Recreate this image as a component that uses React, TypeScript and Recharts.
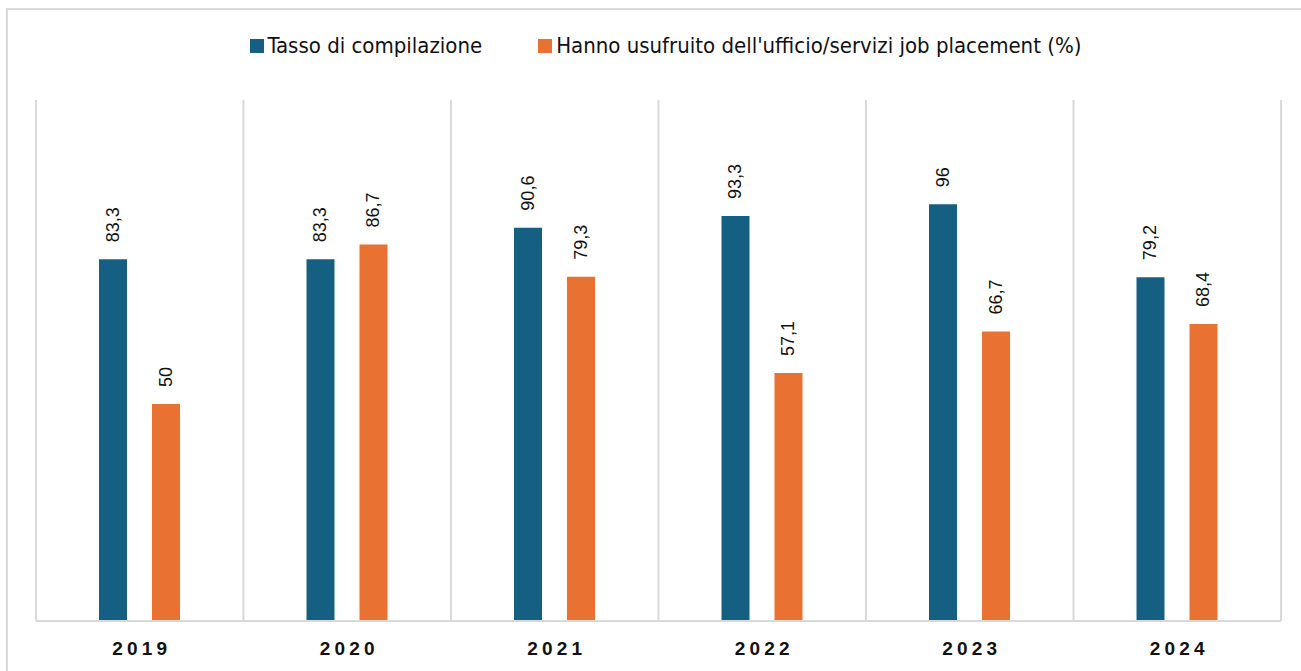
import { BarChart, Bar, XAxis, YAxis, CartesianGrid, Legend, LabelList } from "recharts";

const years = ["2019", "2020", "2021", "2022", "2023", "2024"];
const tassoCompilazione = [83.3, 83.3, 90.6, 93.3, 96, 79.2];
const jobPlacement = [50, 86.7, 79.3, 57.1, 66.7, 68.4];

const BLUE = "#156082";
const ORANGE = "#E97132";
const GRID = "#d9d9d9";
const NARROW = "'Liberation Sans Narrow', 'DejaVu Sans Condensed', sans-serif";

const data = years.map((year, i) => ({
  year,
  tasso: tassoCompilazione[i],
  job: jobPlacement[i],
}));

const legendItems = [
  { label: "Tasso di compilazione", color: BLUE },
  { label: "Hanno usufruito dell'ufficio/servizi job placement (%)", color: ORANGE },
];

function LegendBox() {
  return (
    <div style={{ display: "flex", justifyContent: "center", gap: 56, paddingLeft: 30, height: 24 }}>
      {legendItems.map((it) => (
        <div key={it.label} style={{ display: "flex", alignItems: "center" }}>
          <span style={{ width: 14, height: 14, background: it.color, marginRight: 4, display: "inline-block" }} />
          <span style={{ fontFamily: NARROW, fontSize: 22, color: "#111", lineHeight: "24px" }}>{it.label}</span>
        </div>
      ))}
    </div>
  );
}

function YearTick(props: any) {
  const { x, y, payload } = props;
  return (
    <text
      x={x + 2}
      y={y + 26}
      textAnchor="middle"
      fontFamily="'Liberation Sans', Arial, sans-serif"
      fontWeight="bold"
      fontSize={19}
      letterSpacing={4.2}
      fill="#111"
    >
      {payload.value}
    </text>
  );
}

function ValueLabel(props: any) {
  const { x, y, width, value } = props;
  const cx = Number(x) + Number(width) / 2;
  const ty = Number(y) - 17;
  return (
    <text
      x={cx}
      y={ty}
      transform={`rotate(-90 ${cx} ${ty})`}
      textAnchor="start"
      dominantBaseline="central"
      fontFamily="'Liberation Sans', Arial, sans-serif"
      fontSize={18}
      fill="#111"
    >
      {String(value).replace(".", ",")}
    </text>
  );
}

export default function App() {
  return (
    <div style={{ position: "fixed", left: 0, top: 0, width: 1301, height: 671, overflow: "hidden", background: "#fff" }}>
      <div
        style={{
          position: "absolute",
          left: 6,
          top: 8,
          width: 1400,
          height: 800,
          borderLeft: `2px solid ${GRID}`,
          borderTop: `2px solid ${GRID}`,
        }}
      />
      <div style={{ position: "absolute", left: 0, top: 0 }}>
        <BarChart width={1301} height={671} data={data} margin={{ top: 76, right: 20, left: 36, bottom: 0 }} barSize={28} barGap={25}>
          <CartesianGrid
            horizontal={false}
            stroke={GRID}
            strokeWidth={2}
            verticalCoordinatesGenerator={({ offset }: any) =>
              Array.from({ length: years.length + 1 }, (_, i) => offset.left + (offset.width * i) / years.length)
            }
          />
          <XAxis
            dataKey="year"
            height={50}
            tickLine={false}
            axisLine={{ stroke: GRID, strokeWidth: 2 }}
            tick={<YearTick />}
            interval={0}
          />
          <YAxis hide domain={[0, 120]} />
          <Legend verticalAlign="top" content={<LegendBox />} wrapperStyle={{ top: 34, left: 0, width: 1301 }} />
          <Bar dataKey="tasso" name="Tasso di compilazione" fill={BLUE} isAnimationActive={false}>
            <LabelList dataKey="tasso" content={<ValueLabel />} />
          </Bar>
          <Bar dataKey="job" name="Hanno usufruito dell'ufficio/servizi job placement (%)" fill={ORANGE} isAnimationActive={false}>
            <LabelList dataKey="job" content={<ValueLabel />} />
          </Bar>
        </BarChart>
      </div>
    </div>
  );
}
